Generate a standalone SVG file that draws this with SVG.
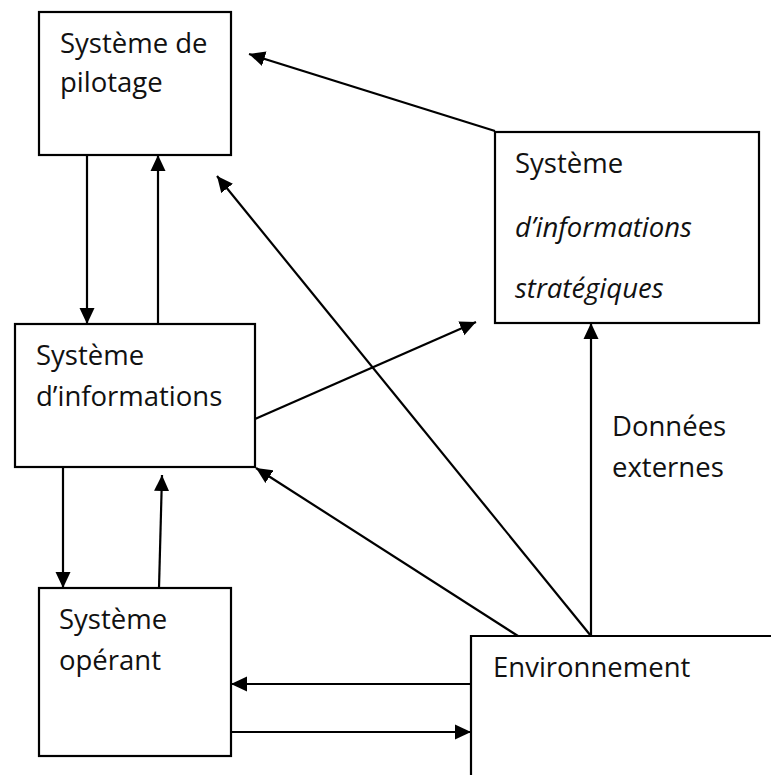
<svg xmlns="http://www.w3.org/2000/svg" width="771" height="775" viewBox="0 0 771 775">
<defs>
<style>
.box{fill:#fff;stroke:#000;stroke-width:2.2}
.ln{fill:none;stroke:#000;stroke-width:2.2}
.arr{fill:none;stroke:#000;stroke-width:2.2;marker-end:url(#ah)}
text{font-family:"Open Sans","Noto Sans","Liberation Sans",sans-serif;font-size:27.5px;fill:#111}
.it{font-style:italic}
</style>
<marker id="ah" markerUnits="userSpaceOnUse" markerWidth="17" markerHeight="16" refX="16" refY="7.5" orient="auto" viewBox="0 0 17 15">
<path d="M0,0 L16,7.5 L0,15 Z" fill="#000"/>
</marker>
</defs>
<rect width="771" height="775" fill="#fff"/>
<g id="connectors">
<line class="arr" x1="87" y1="155" x2="87" y2="324"/>
<line class="arr" x1="158" y1="324" x2="158" y2="155"/>
<line class="arr" x1="495" y1="131" x2="249" y2="54"/>
<line class="arr" x1="591" y1="636" x2="217" y2="176"/>
<line class="arr" x1="255" y1="419" x2="476" y2="322"/>
<line class="arr" x1="518" y1="636" x2="256" y2="468"/>
<line class="arr" x1="591" y1="636" x2="591" y2="323"/>
<line class="arr" x1="63" y1="467" x2="63" y2="588"/>
<line class="arr" x1="159" y1="588" x2="162" y2="475"/>
<line class="arr" x1="471" y1="684" x2="231" y2="684"/>
<line class="arr" x1="231" y1="732" x2="471" y2="732"/>
</g>
<g id="pilotage">
<rect class="box" x="39" y="12" width="192" height="143"/>
<text x="60" y="53">Système de</text>
<text x="60" y="92">pilotage</text>
</g>
<g id="sis">
<rect class="box" x="495" y="132" width="264" height="191"/>
<text x="515" y="173">Système</text>
<text class="it" x="515" y="237">d’informations</text>
<text class="it" x="515" y="298">stratégiques</text>
</g>
<g id="si">
<rect class="box" x="15" y="324" width="240" height="143"/>
<text x="36" y="365">Système</text>
<text x="36" y="406">d’informations</text>
</g>
<g id="operant">
<rect class="box" x="39" y="588" width="192" height="168"/>
<text x="59" y="629">Système</text>
<text x="59" y="670">opérant</text>
</g>
<g id="environnement">
<path class="ln" d="M771,636 L471,636 L471,775"/>
<text x="493" y="677">Environnement</text>
</g>
<g id="label-donnees">
<text x="612" y="436">Données</text>
<text x="612" y="477">externes</text>
</g>
</svg>
